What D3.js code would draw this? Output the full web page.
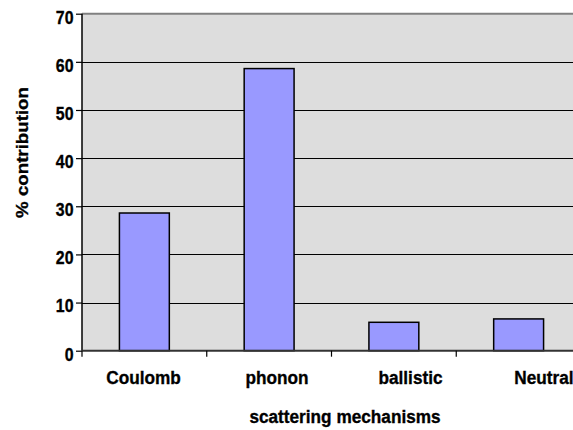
<!DOCTYPE html>
<html>
<head>
<meta charset="utf-8">
<script src="https://cdn.jsdelivr.net/npm/d3@7"></script>
<style>
  html, body { margin: 0; padding: 0; background: #ffffff; }
  svg { display: block; }
  text { font-family: "Liberation Sans", Arial, sans-serif; font-weight: bold; fill: #000; stroke: #000; stroke-width: 0.35px; }
</style>
</head>
<body>
<svg id="chart" width="573" height="430"></svg>
<script>
const categories = ["Coulomb", "phonon", "ballistic", "Neutral"];
const values = [28.6, 58.6, 5.9, 6.6];
const yTicks = [0, 10, 20, 30, 40, 50, 60, 70];
const xTitle = "scattering mechanisms";
const yTitle = "% contribution";

const svg = d3.select("#chart");
const plot = { left: 82, right: 581, top: 13.7, bottom: 350.7 };

const x = d3.scaleBand().domain(categories)
  .range([plot.left, plot.right]).paddingInner(0.6).paddingOuter(0.3);
const step = x.step();
const y = d3.scaleLinear().domain([0, 70]).range([plot.bottom, plot.top]);
// label positions (labels in the original sit slightly right of band centres)
const xl = d3.scalePoint().domain(categories).range([143.5, 544]);

// background
svg.append("rect")
  .attr("x", plot.left).attr("y", plot.top)
  .attr("width", plot.right - plot.left).attr("height", plot.bottom - plot.top)
  .attr("fill", "#dddddd");

// gridlines
svg.append("g").selectAll("line")
  .data(yTicks.filter(d => d > 0 && d < 70))
  .join("line")
  .attr("x1", plot.left).attr("x2", plot.right)
  .attr("y1", d => Math.round(y(d)) + 0.5).attr("y2", d => Math.round(y(d)) + 0.5)
  .attr("stroke", "#000").attr("stroke-width", 1);

// top border line (gray)
svg.append("line")
  .attr("x1", plot.left).attr("x2", plot.right)
  .attr("y1", y(70)).attr("y2", y(70))
  .attr("stroke", "#808080").attr("stroke-width", 2);

// bars
svg.append("g").selectAll("rect")
  .data(categories)
  .join("rect")
  .attr("x", d => x(d))
  .attr("y", (d, i) => y(values[i]))
  .attr("width", x.bandwidth())
  .attr("height", (d, i) => y(0) - y(values[i]))
  .attr("fill", "#9999ff")
  .attr("stroke", "#000")
  .attr("stroke-width", 1.5);

// y axis
const yAxis = d3.axisLeft(y).tickValues(yTicks).tickSize(6).tickFormat(() => "");
const gy = svg.append("g").attr("transform", `translate(${plot.left},0)`).call(yAxis);
gy.select(".domain").attr("stroke", "#000").attr("stroke-width", 1.5)
  .attr("d", `M0,${plot.top}V${plot.bottom}`);
gy.selectAll(".tick line").attr("stroke", "#000").attr("stroke-width", 1.2);
// tick labels (tall, slightly condensed as in the original)
svg.append("g").selectAll("text")
  .data(yTicks)
  .join("text")
  .attr("transform", d => `translate(73.5,${y(d) + 9.8}) scale(0.86,1)`)
  .attr("text-anchor", "end")
  .attr("font-size", 18.5)
  .text(d => d);

// x axis: ticks at band boundaries
const bounds = categories.map(c => x(c) - x.paddingOuter() * step).concat([plot.right]);
svg.append("line")
  .attr("x1", plot.left).attr("x2", plot.right)
  .attr("y1", plot.bottom).attr("y2", plot.bottom)
  .attr("stroke", "#333").attr("stroke-width", 2);
svg.append("g").selectAll("line")
  .data(bounds)
  .join("line")
  .attr("x1", d => d).attr("x2", d => d)
  .attr("y1", plot.bottom).attr("y2", plot.bottom + 6)
  .attr("stroke", "#000").attr("stroke-width", 1.2);

// category labels
svg.append("g").selectAll("text")
  .data(categories)
  .join("text")
  .attr("transform", d => `translate(${xl(d)},383.5) scale(0.93,1)`)
  .attr("text-anchor", "middle")
  .attr("font-size", 18.5)
  .text(d => d);

// axis titles
svg.append("text")
  .attr("transform", "translate(345,423) scale(0.93,1)")
  .attr("text-anchor", "middle")
  .attr("font-size", 18.5)
  .text(xTitle);

svg.append("text")
  .attr("transform", "translate(27.5,152.5) rotate(-90) scale(1,0.93)")
  .attr("text-anchor", "middle")
  .attr("font-size", 18.7)
  .text(yTitle);
</script>
</body>
</html>
